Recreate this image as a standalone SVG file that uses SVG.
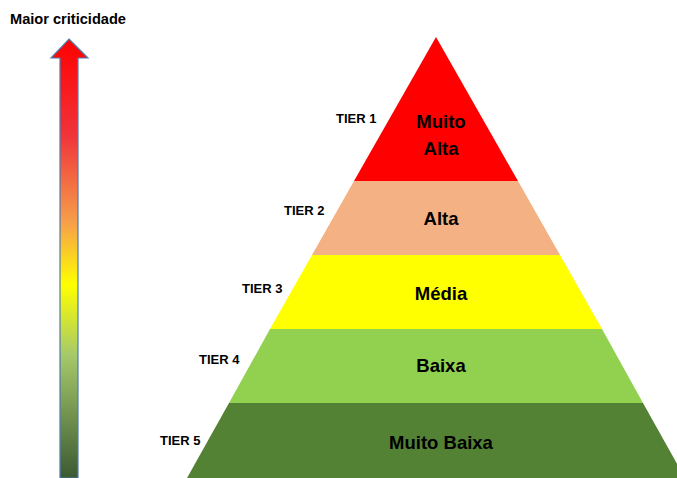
<svg xmlns="http://www.w3.org/2000/svg" width="677" height="478" viewBox="0 0 677 478">
<defs>
<linearGradient id="g" x1="0" y1="0" x2="0" y2="1">
<stop offset="0" stop-color="#ff0000"/>
<stop offset="0.22" stop-color="#f0343a"/>
<stop offset="0.42" stop-color="#f6a04a"/>
<stop offset="0.56" stop-color="#ffff00"/>
<stop offset="0.72" stop-color="#a6c96a"/>
<stop offset="1" stop-color="#3b5a33"/>
</linearGradient>
<style>
.t{font-family:"Liberation Sans",Arial,sans-serif;font-weight:bold;fill:#000}
.tier{font-size:13px}
.lab{font-size:18.5px;text-anchor:middle}
</style>
</defs>
<rect width="677" height="478" fill="#fff"/>
<text class="t" x="10" y="24" font-size="14" textLength="116" lengthAdjust="spacingAndGlyphs">Maior criticidade</text>
<g id="arrow">
<path d="M69,39 L88,58 L78,58 L78,478 L60,478 L60,58 L51,58 Z" fill="url(#g)" stroke="#4f7cb3" stroke-width="1.2"/>
</g>
<g id="tier1">
<polygon points="436,37 518,181 354,181" fill="#ff0000"/>
<text class="t tier" x="336" y="123">TIER 1</text>
<text class="t lab" x="441" y="128">Muito</text>
<text class="t lab" x="441" y="155">Alta</text>
</g>
<g id="tier2">
<polygon points="354,181 518,181 560,255 312,255" fill="#f4b183"/>
<text class="t tier" x="284" y="215">TIER 2</text>
<text class="t lab" x="441" y="225">Alta</text>
</g>
<g id="tier3">
<polygon points="312,255 560,255 602,329 270,329" fill="#ffff00"/>
<text class="t tier" x="242" y="293">TIER 3</text>
<text class="t lab" x="441" y="300">Média</text>
</g>
<g id="tier4">
<polygon points="270,329 602,329 643,403 229,403" fill="#92d050"/>
<text class="t tier" x="199" y="364">TIER 4</text>
<text class="t lab" x="441" y="372">Baixa</text>
</g>
<g id="tier5">
<polygon points="229,403 643,403 685,478 187,478" fill="#548235"/>
<text class="t tier" x="160" y="445">TIER 5</text>
<text class="t lab" x="441" y="449">Muito Baixa</text>
</g>
<g id="connectors"/>
</svg>
